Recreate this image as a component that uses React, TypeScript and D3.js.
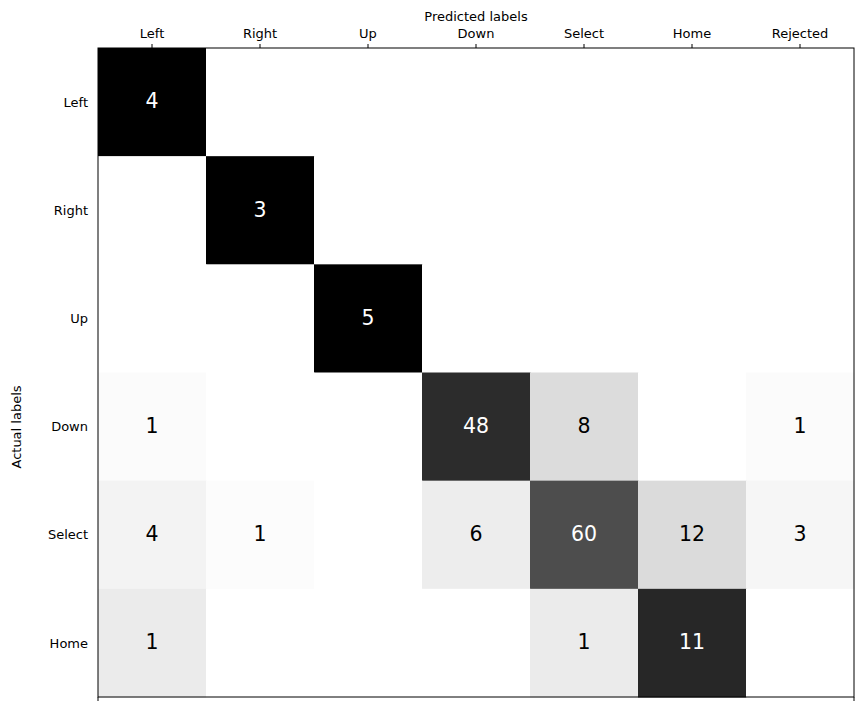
import React from "react";
import * as d3 from "d3";

const predictedLabels = ["Left", "Right", "Up", "Down", "Select", "Home", "Rejected"];
const actualLabels = ["Left", "Right", "Up", "Down", "Select", "Home"];
const rowLeft = [4, 0, 0, 0, 0, 0, 0];
const rowRight = [0, 3, 0, 0, 0, 0, 0];
const rowUp = [0, 0, 5, 0, 0, 0, 0];
const rowDown = [1, 0, 0, 48, 8, 0, 1];
const rowSelect = [4, 1, 0, 6, 60, 12, 3];
const rowHome = [1, 0, 0, 0, 1, 11, 0];
const matrix = [rowLeft, rowRight, rowUp, rowDown, rowSelect, rowHome];

const W = 863, H = 702;
const left = 98, right = 854, top = 48, bottom = 697;
const font = "DejaVu Sans, sans-serif";
const fs = 13;

export default function App() {
  const x = d3.scaleBand().domain(predictedLabels).range([left, right]);
  const y = d3.scaleBand().domain(actualLabels).range([top, bottom]);
  const color = d3.scaleLinear<string>().domain([0, 1]).range(["#ffffff", "#000000"]).interpolate(d3.interpolateRgb);

  const cells: any[] = [];
  matrix.forEach((row, i) => {
    const total = d3.sum(row);
    row.forEach((v, j) => {
      const n = total ? v / total : 0;
      cells.push({ r: actualLabels[i], c: predictedLabels[j], v, n });
    });
  });

  return (
    <svg width={W} height={H} style={{ position: "absolute", left: 0, top: 0, background: "#fff" }} fontFamily={font}>
      {cells.map((d, k) => (
        <rect key={k} x={x(d.c)!} y={y(d.r)!} width={x.bandwidth() + 0.5} height={y.bandwidth() + 0.5} fill={color(d.n)} />
      ))}
      {cells.filter(d => d.v > 0).map((d, k) => (
        <text key={"t" + k} x={x(d.c)! + x.bandwidth() / 2} y={y(d.r)! + y.bandwidth() / 2} dy="0.31em"
          textAnchor="middle" fontSize={20.5} fill={d.n > 0.5 ? "#fff" : "#000"}>{d.v}</text>
      ))}
      <rect x={left} y={top} width={right - left} height={bottom - top} fill="none" stroke="#000" strokeWidth={1} />
      {predictedLabels.map(l => (
        <g key={l}>
          <line x1={x(l)! + x.bandwidth() / 2} x2={x(l)! + x.bandwidth() / 2} y1={top} y2={top - 4} stroke="#000" />
          <text x={x(l)! + x.bandwidth() / 2} y={37.5} textAnchor="middle" fontSize={fs} fill="#000">{l}</text>
        </g>
      ))}
      {actualLabels.map(l => (
        <text key={l} x={88} y={y(l)! + y.bandwidth() / 2} dy="0.36em" textAnchor="end" fontSize={fs} fill="#000">{l}</text>
      ))}
      <line x1={left} x2={left} y1={bottom} y2={bottom + 4} stroke="#000" />
      <line x1={right} x2={right} y1={bottom} y2={bottom + 4} stroke="#000" />
      <text x={(left + right) / 2} y={21} textAnchor="middle" fontSize={fs} fill="#000">Predicted labels</text>
      <text transform={`translate(21,427) rotate(-90)`} textAnchor="middle" fontSize={fs} fill="#000">Actual labels</text>
    </svg>
  );
}
